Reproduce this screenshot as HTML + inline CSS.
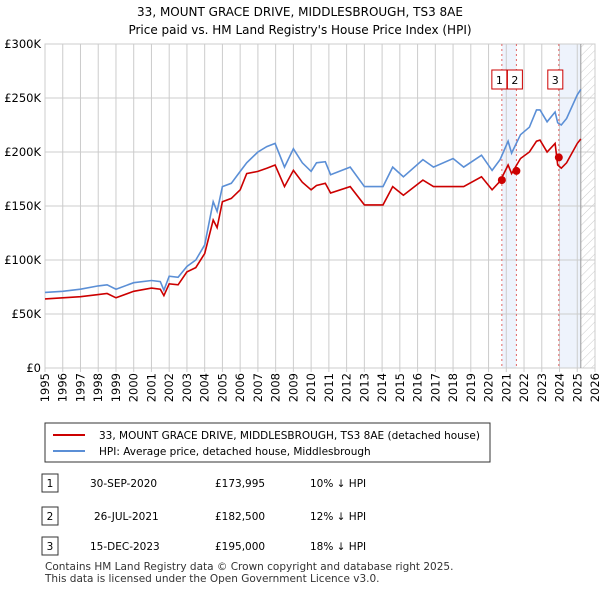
<!DOCTYPE html>
<html><head><meta charset="utf-8"><style>
body{margin:0;background:#fff;font-family:"Liberation Sans",sans-serif;}
svg text{font-family:"DejaVu Sans","Liberation Sans",sans-serif;}
</style></head><body>
<svg id="c" width="600" height="590" xmlns="http://www.w3.org/2000/svg">
<defs><pattern id="h" width="6" height="6" patternUnits="userSpaceOnUse" patternTransform="rotate(45)"><line x1="0" y1="0" x2="0" y2="6" stroke="#ccc" stroke-width="1"/></pattern></defs>
<text x="300" y="16" text-anchor="middle" font-size="12">33, MOUNT GRACE DRIVE, MIDDLESBROUGH, TS3 8AE</text>
<text x="300" y="34" text-anchor="middle" font-size="12">Price paid vs. HM Land Registry's House Price Index (HPI)</text>
<g id="plot"></g>
<g>
<rect x="45" y="423" width="445" height="39" fill="#fff" stroke="#333"/>
<line x1="53" y1="435" x2="85" y2="435" stroke="#cc0000" stroke-width="2"/>
<text x="99" y="439" font-size="10.5">33, MOUNT GRACE DRIVE, MIDDLESBROUGH, TS3 8AE (detached house)</text>
<line x1="53" y1="451" x2="85" y2="451" stroke="#5b8fd6" stroke-width="2"/>
<text x="99" y="455" font-size="10.5">HPI: Average price, detached house, Middlesbrough</text>
</g>
<g font-size="10.5">
<rect x="42" y="474" width="16" height="18" fill="#fff" stroke="#333"/><text x="50" y="487" text-anchor="middle">1</text>
<text x="90" y="487">30-SEP-2020</text><text x="215" y="487">£173,995</text><text x="310" y="487">10% ↓ HPI</text>
<rect x="42" y="507" width="16" height="18" fill="#fff" stroke="#333"/><text x="50" y="520" text-anchor="middle">2</text>
<text x="94" y="520">26-JUL-2021</text><text x="215" y="520">£182,500</text><text x="310" y="520">12% ↓ HPI</text>
<rect x="42" y="537" width="16" height="18" fill="#fff" stroke="#333"/><text x="50" y="550" text-anchor="middle">3</text>
<text x="90" y="550">15-DEC-2023</text><text x="215" y="550">£195,000</text><text x="310" y="550">18% ↓ HPI</text>
</g>
<text x="45" y="570" font-size="10.5" fill="#333">Contains HM Land Registry data © Crown copyright and database right 2025.</text>
<text x="45" y="582" font-size="10.5" fill="#333">This data is licensed under the Open Government Licence v3.0.</text>
</svg>
<script>
const hpiYears=[1995,1996,1997,1998,1998.5,1999,2000,2001,2001.5,2001.7,2002,2002.5,2003,2003.5,2004,2004.48,2004.7,2005,2005.5,2006,2006.37,2007,2007.5,2007.97,2008.5,2009,2009.5,2010,2010.3,2010.8,2011.1,2012.2,2013.0,2014.05,2014.6,2015.2,2016.3,2016.9,2018.0,2018.6,2019.6,2020.2,2020.65,2021.1,2021.3,2021.8,2022.3,2022.7,2022.9,2023.3,2023.75,2023.9,2024.1,2024.4,2025.0,2025.2];
const hpiValues=[70,71,73,76,77,73,79,81,80,72,85,84,94,100,114,154,145,168,171,182,190,200,205,208,186,203,190,182,190,191,179,186,168,168,186,177,193,186,194,186,197,183,193,210,199,216,223,239,239,228,237,227,225,231,253,258];
const ppYears=[1995,1996,1997,1998,1998.5,1999,2000,2001,2001.5,2001.7,2002,2002.5,2003,2003.5,2004,2004.48,2004.7,2005,2005.5,2006,2006.37,2007,2007.5,2007.97,2008.5,2009,2009.5,2010,2010.3,2010.8,2011.1,2012.2,2013.0,2014.05,2014.6,2015.2,2016.3,2016.9,2018.0,2018.6,2019.6,2020.2,2020.65,2021.1,2021.3,2021.8,2022.3,2022.7,2022.9,2023.3,2023.75,2023.9,2024.1,2024.4,2025.0,2025.2];
const ppValues=[64,65,66,68,69,65,71,74,73,67,78,77,89,93,106,137,130,154,157,165,180,182,185,188,168,183,172,165,169,171,162,168,151,151,168,160,174,168,168,168,177,165,173,188,180,194,200,210,211,200,208,188,185,190,208,212];
const saleYears=[2020.75,2021.57,2023.96];
const saleValues=[173.995,182.5,195];
const saleLabels=["1","2","3"];
const yTicks=[0,50,100,150,200,250,300];
const yTickLabels=["£0","£50K","£100K","£150K","£200K","£250K","£300K"];
const xTicks=[];for(let y=1995;y<=2026;y++)xTicks.push(y);

const NS="http://www.w3.org/2000/svg";
const X0=45,X1=595,Y0=368,Y1=44;
const xs=y=>X0+(y-1995)*(X1-X0)/31;
const ys=v=>Y0-v*(Y0-Y1)/300;
const g=document.getElementById('plot');
function mk(t,a,p){const e=document.createElementNS(NS,t);for(const k in a)e.setAttribute(k,a[k]);(p||g).appendChild(e);return e;}
let e=mk('rect',{x:xs(saleYears[0]),y:Y1,width:xs(saleYears[1])-xs(saleYears[0]),height:Y0-Y1,fill:'#eef3fc'});


e=mk('rect',{x:xs(saleYears[2]),y:Y1,width:xs(2025.2)-xs(saleYears[2]),height:Y0-Y1,fill:'#eef3fc'});


e=mk('rect',{x:xs(2025.2),y:Y1,width:X1-xs(2025.2),height:Y0-Y1,fill:'url(#h)'});


xTicks.forEach((t,i)=>{
 const l=mk('line',{x1:xs(t),x2:xs(t),y1:Y1,y2:Y0+4,stroke:'#ccc'});
 
 
 const tx=mk('text',{x:0,y:0,'text-anchor':'end','font-size':'11.5',transform:`translate(${xs(t)+4},${Y0+5}) rotate(-90)`});tx.textContent=t;
 
 
});
yTicks.forEach((t,i)=>{
 const l=mk('line',{x1:X0,x2:X1,y1:ys(t),y2:ys(t),stroke:'#ccc'});
 
 
 const tx=mk('text',{x:X0-4,y:ys(t)+4,'text-anchor':'end','font-size':'11.5'});tx.textContent=yTickLabels[i];
 
 
});
e=mk('rect',{x:X0,y:Y1,width:X1-X0,height:Y0-Y1,fill:'none',stroke:'#ccc'});


e=mk('line',{x1:xs(2025.2),x2:xs(2025.2),y1:Y1,y2:Y0,stroke:'#999'});


saleYears.forEach((s,i)=>{
 const l=mk('line',{x1:xs(s),x2:xs(s),y1:Y1,y2:Y0,stroke:'#e06666','stroke-dasharray':'2,3'});
 
 
});
function path(xa,va){return xa.map((x,i)=>(i?'L':'M')+xs(x).toFixed(1)+','+ys(va[i]).toFixed(1)).join('');}
e=mk('path',{d:path(hpiYears,hpiValues),fill:'none',stroke:'#5b8fd6','stroke-width':1.6});


e=mk('path',{d:path(ppYears,ppValues),fill:'none',stroke:'#cc0000','stroke-width':1.6});


const boxOff=[-10,-9,-11];
saleYears.forEach((s,i)=>{
 const d=mk('circle',{cx:xs(s),cy:ys(saleValues[i]),r:4,fill:'#cc0000'});
 
 
 const bx=xs(s)+boxOff[i];
 const r=mk('rect',{x:bx,y:70,width:15,height:19,fill:'#fff',stroke:'#cc0000'});
 
 
 const t=mk('text',{x:bx+7.5,y:84,'text-anchor':'middle','font-size':'11'});t.textContent=saleLabels[i];
 
 
});
</script>
</body></html>
